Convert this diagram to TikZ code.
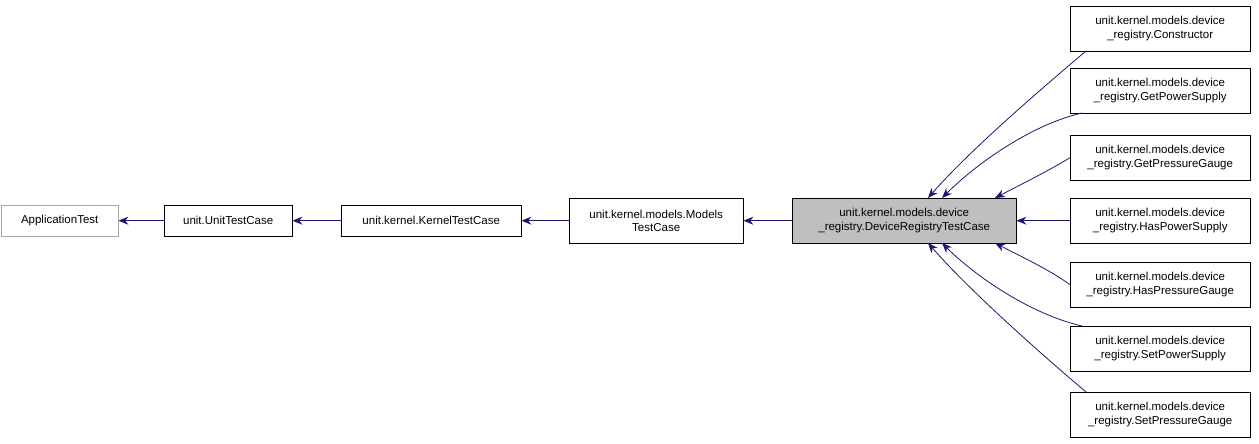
\documentclass[tikz,border=0pt]{standalone}
\usepackage{fontspec}
\setmainfont{Liberation Sans}
\usetikzlibrary{arrows.meta}
\begin{document}
\begin{tikzpicture}[x=1pt,y=-1pt,
 box/.style={draw=black,fill=white,font=\fontsize{11.5}{13.5}\selectfont,align=center,inner sep=0pt,anchor=north west},
 edge/.style={draw=midnightblue,line width=0.8pt,-{Stealth[length=10pt,width=8pt,fill=midnightblue]}}]
\definecolor{midnightblue}{HTML}{191970}
\useasboundingbox (0,0) rectangle (1259,444);
\node[box,draw=gray!70,minimum width=117,minimum height=31] (at) at (1,205) {ApplicationTest};
\node[box,minimum width=128,minimum height=31] (ut) at (164,205) {unit.UnitTestCase};
\node[box,minimum width=180,minimum height=31] (kt) at (341,205) {unit.kernel.KernelTestCase};
\node[box,minimum width=174,minimum height=45] (mt) at (569,198) {unit.kernel.models.Models\\TestCase};
\node[box,fill=gray!50,minimum width=224,minimum height=45] (dr) at (792,198) {unit.kernel.models.device\\\_registry.DeviceRegistryTestCase};
\node[box,minimum width=180,minimum height=45] (c1) at (1070,6) {unit.kernel.models.device\\\_registry.Constructor};
\node[box,minimum width=180,minimum height=45] (c2) at (1070,68) {unit.kernel.models.device\\\_registry.GetPowerSupply};
\node[box,minimum width=180,minimum height=45] (c3) at (1070,135) {unit.kernel.models.device\\\_registry.GetPressureGauge};
\node[box,minimum width=180,minimum height=45] (c4) at (1070,198) {unit.kernel.models.device\\\_registry.HasPowerSupply};
\node[box,minimum width=180,minimum height=45] (c5) at (1070,262) {unit.kernel.models.device\\\_registry.HasPressureGauge};
\node[box,minimum width=180,minimum height=45] (c6) at (1070,326) {unit.kernel.models.device\\\_registry.SetPowerSupply};
\node[box,minimum width=180,minimum height=45] (c7) at (1070,392) {unit.kernel.models.device\\\_registry.SetPressureGauge};
\coordinate (s1) at (1086,51);
\coordinate (s2) at (1082,113);
\coordinate (s7) at (1086,392);
\coordinate (s6) at (1082,326);
\coordinate (t1) at (928,198);
\coordinate (t2) at (942,198);
\coordinate (t3) at (995,198);
\coordinate (t5) at (995,243);
\coordinate (t6) at (942,243);
\coordinate (t7) at (928,243);
\draw[edge] (ut) -- (at);
\draw[edge] (kt) -- (ut);
\draw[edge] (mt.west|-kt.east) -- (kt);
\draw[edge] (dr) -- (mt);
\draw[edge] (c4) -- (dr);
\draw[edge] (s1) .. controls (1040,90) and (970,150) .. (t1);
\draw[edge] (s2) .. controls (1030,125) and (975,165) .. (t2);
\draw[edge] (c3.west) .. controls (1050,170) and (1020,185) .. (t3);
\draw[edge] (c5.west) .. controls (1050,270) and (1020,256) .. (t5);
\draw[edge] (s6) .. controls (1030,314) and (975,276) .. (t6);
\draw[edge] (s7) .. controls (1040,353) and (970,291) .. (t7);
\end{tikzpicture}
\end{document}
